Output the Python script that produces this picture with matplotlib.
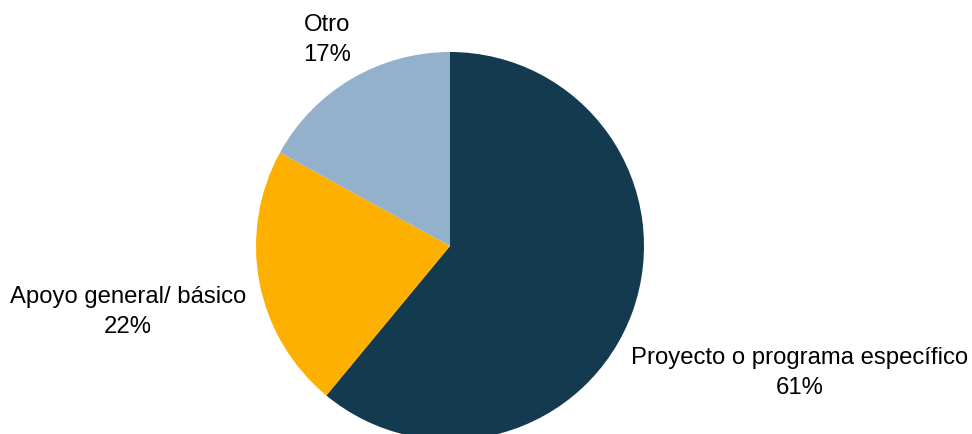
import numpy as np
import matplotlib.pyplot as plt

plt.rcParams['font.family'] = ['Liberation Sans', 'DejaVu Sans']

categories = ['Proyecto o programa específico', 'Apoyo general/ básico', 'Otro']
shares = [61, 22, 17]
colors = ['#143A4F', '#FDB000', '#93B1CB']
# label anchor positions in radius units (x, y), Excel-style outside labels
label_pos = [(1.80, -0.65), (-1.66, -0.335), (-0.634, 1.067)]

fig = plt.figure(figsize=(9.72, 4.35), dpi=100)
cx, cy, r = 450, 247, 194
ax = fig.add_axes([(cx - r) / 972, (435 - cy - r) / 435, 2 * r / 972, 2 * r / 435])

ax.pie(shares, colors=colors, startangle=90, counterclock=False, radius=1,
       wedgeprops=dict(linewidth=0))
ax.set_xlim(-1, 1)
ax.set_ylim(-1, 1)
ax.set_aspect('equal')
ax.axis('off')

for name, val, (x, y) in zip(categories, shares, label_pos):
    ax.text(x, y, f'{name}\n{val}%', ha='center', va='center', fontsize=17.2,
            linespacing=1.45, color='#000000', clip_on=False)

fig.savefig('out.png', dpi=100)
